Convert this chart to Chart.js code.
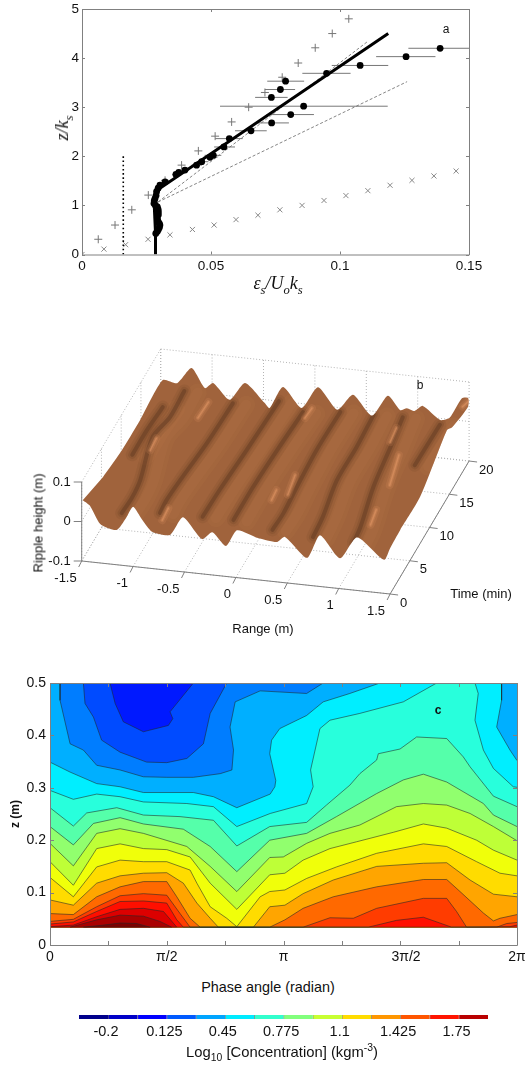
<!DOCTYPE html>
<html>
<head>
<meta charset="utf-8">
<script src="https://cdn.jsdelivr.net/npm/chart.js@4/dist/chart.umd.js"></script>
<style>
  html, body { margin: 0; padding: 0; background: #fff; }
  #page { position: relative; width: 525px; height: 1066px; overflow: hidden; font-family: "Liberation Sans", Arial, sans-serif; color: #111; }
  canvas { position: absolute; left: 0; display: block; }
  .label { position: absolute; white-space: nowrap; line-height: 1; font-size: 13px; transform: translate(-50%, -50%); }
  .up { transform: translate(-50%, -50%) rotate(-90deg); }
  .math { font-family: "Liberation Serif", serif; font-style: italic; font-size: 18px; }
  sub, sup { font-size: 70%; line-height: 0; }
</style>
</head>
<body>
<div id="page">
  <canvas id="profileChart" width="525" height="300" style="top:0"></canvas>
  <canvas id="surfaceChart" width="525" height="310" style="top:330px"></canvas>
  <canvas id="contourChart" width="525" height="305" style="top:670px"></canvas>
  <canvas id="colorbarChart" width="525" height="45" style="top:1000px"></canvas>

  <span class="label math" style="left:278px;top:283px">&#949;<sub>s</sub>/U<sub>o</sub>k<sub>s</sub></span>
  <span class="label math up" style="left:62px;top:128px">z/k<sub>s</sub></span>
  <span class="label" style="left:446px;top:29px;font-size:12px">a</span>

  <span class="label" style="left:420px;top:385px;font-size:12px">b</span>
  <span class="label up" style="left:38px;top:523px">Ripple height (m)</span>
  <span class="label" style="left:263px;top:628px">Range (m)</span>
  <span class="label" style="left:481px;top:593px">Time (min)</span>

  <span class="label" style="left:438px;top:710px;font-size:12px;font-weight:bold">c</span>
  <span class="label up" style="left:15px;top:814px;font-weight:bold;font-size:12px">z (m)</span>
  <span class="label" style="left:268px;top:987px;font-size:14.4px">Phase angle (radian)</span>
  <span class="label" style="left:282px;top:1052px;font-size:14.8px">Log<sub>10</sub> [Concentration] (kgm<sup>-3</sup>)</span>
</div>
<script>
// panel a: dissipation profile
const epsTicks = [0, 0.05, 0.1, 0.15];
const heightTicks = [0, 1, 2, 3, 4, 5];
const dotEps = [.1388, .1256, .1078, .0948, .0789, .0769, .0734, .0859, .0809, .0735, .0655, .0571, .055, .0509, .0496, .0464, .0444, .0399, .0375, .0364, .0322, .0302, .0295, .0289, .0287, .0283, .028, .0279, .0285, .0292, .0295, .0296, .0296, .0292, .0293, .0296, .03, .0302, .03, .0296, .0292, .0286];
const dotHeight = [4.2, 4.03, 3.85, 3.69, 3.53, 3.36, 3.2, 3.02, 2.85, 2.68, 2.52, 2.36, 2.19, 2.02, 1.98, 1.89, 1.82, 1.72, 1.67, 1.63, 1.48, 1.41, 1.35, 1.28, 1.2, 1.14, 1.09, 1.04, 1.0, .97, .92, .87, .81, .75, .7, .66, .63, .6, .55, .51, .47, .43];
const dotLow = [.1265, .114, .0968, .0854, .0718, .0709, .0671, .0535, .0716, .0682, .0593, .0516, .0512, .0475, .047, .0445, .0425, .0385, .036, .035, .031, .0292, .0285, .028, .0278, .0274, .0272, .027, .0276, .0283, .0286, .0287, .0287, .0283, .0284, .0287, .029, .0292, .029, .0287, .0283, .0277];
const dotHigh = [.151, .137, .1187, .1041, .0861, .0826, .0797, .1185, .0899, .0802, .0716, .0623, .0593, .054, .0525, .049, .0465, .0415, .039, .0378, .0335, .0312, .0305, .0298, .0296, .0292, .0288, .0288, .0294, .0301, .0304, .0305, .0305, .0301, .0302, .0305, .031, .0312, .031, .0305, .0301, .0295];
const plusEps = [.0063, .0128, .0193, .0257, .0322, .0386, .0451, .0516, .058, .0646, .0709, .0776, .0838, .0904, .097, .1034];
const plusHeight = [.31, .6, .91, 1.21, 1.51, 1.82, 2.11, 2.41, 2.7, 3.0, 3.3, 3.61, 3.9, 4.21, 4.5, 4.8];
const crossEps = [0, .0085, .0169, .0256, .0341, .0428, .0512, .0597, .0682, .0767, .0853, .0938, .1023, .1108, .1194, .1279, .1364, .145];
const crossHeight = [0, .11, .2, .31, .4, .51, .6, .71, .8, .91, 1.0, 1.1, 1.2, 1.3, 1.41, 1.51, 1.6, 1.7];
const fitEps = [.0285, .0285, .028, .0285, .0302, .1187];
const fitHeight = [0, .43, 1.0, 1.2, 1.35, 4.5];
const upperDashEps = [.0295, .111];
const upperDashHeight = [1.07, 4.35];
const lowerDashEps = [.0295, .126];
const lowerDashHeight = [1.07, 3.52];
const dottedEps = [.016, .016];
const dottedHeight = [0, 2.02];

// panel b: rippled bed, edges read as [range, height] or [time, height]
const rangeTicks = [-1.5, -1, -0.5, 0, 0.5, 1, 1.5];
const timeTicks = [0, 5, 10, 15, 20];
const rippleTicks = [-0.1, 0, 0.1];
const frontEdge = [[-1.49, .054], [-1.42, .042], [-1.32, -.001], [-1.16, -.012], [-1.07, .02], [-1.0, .051], [-.91, .02], [-.816, -.007], [-.64, -.01], [-.515, .038], [-.33, -.012], [-.23, .008], [-.097, -.023], [.011, .02], [.215, .006], [.4, .001], [.478, .016], [.692, -.031], [.818, .03], [1.013, -.023], [1.178, .035], [1.441, -.015], [1.5, .016]];
const rightEdge = [[2.53, .019], [7.6, .018], [14.4, .073], [15.7, .058], [19.7, .042]];
const backEdge = [[-1.48, .022], [-1.34, .018], [-1.2, .06], [-1.07, .013], [-.99, .028], [-.83, -.01], [-.68, .037], [-.49, -.008], [-.44, -.02], [-.31, .037], [-.13, -.011], [.03, .046], [.22, -.006], [.37, .036], [.555, -.012], [.71, .043], [.83, .01], [.895, .017], [.97, .012], [1.05, .027], [1.22, -.004], [1.31, .004], [1.43, .057], [1.49, .059]];
const leftEdge = [[5.4, .022], [9.7, .01], [14.8, .008]];
// ripple flanks in shadow and in light, as [range, time]
const shadowFlanks = [
  [[-1.38, 17.4], [-1.40, 13.9], [-1.40, 10.2]],
  [[-1.27, 20], [-1.26, 16.1], [-1.31, 13.0], [-1.19, 6.75], [-1.17, 4.2], [-1.18, 1.8]],
  [[-.76, 19.0], [-.78, 13.0], [-.82, 7.8], [-.84, 4.3], [-.83, 2.4]],
  [[-.35, 20], [-.38, 12.6], [-.41, 6.5], [-.42, 2.5]],
  [[-.07, 18.8], [-.10, 13.1], [-.12, 7.5], [-.12, 2.5]],
  [[.27, 19.4], [.26, 13.7], [.28, 8.1], [.30, 4.2], [.29, 1.7]],
  [[.59, 19.5], [.61, 14.7], [.61, 9.7], [.68, 4.3], [.70, 1.3]],
  [[.87, 19.6], [.92, 15.2], [.98, 9.3], [1.08, 3.4], [1.10, 1.1]],
  [[1.25, 19.1], [1.24, 13.0]]
];
const litFlanks = [
  [[-1.26, 11.1], [-1.27, 12.9]],
  [[-.99, 18.8], [-1.0, 16.4]],
  [[-.77, 1.4], [-.78, 3.2]],
  [[-.01, 19.5], [-.02, 18.0]],
  [[.2, 9.8], [.24, 6.9]],
  [[.11, 7.4], [.12, 5.9]],
  [[1.13, 6.1], [1.16, 3.9]],
  [[1.04, 14.2], [1.12, 9.8]],
  [[.87, 18.0], [.89, 15.9]],
  [[1.36, 22], [1.39, 23]]
];

// panel c: concentration contours as [phase / pi, z]
const phaseTicks = [0, .25, .5, .75, 1, 1.25, 1.5, 1.75, 2];
const phaseLabels = ['0', '', 'π/2', '', 'π', '', '\u00a0\u00a0\u00a03π/2', '', '2π'];
const zTicks = [0, .1, .2, .3, .4, .5];
const zBottom = .034;
const topBlue1 = [[.043, .5], [.043, .467], [.086, .384], [.143, .372], [.2, .343], [.3, .334], [.4, .321], [.5, .32], [.614, .32], [.729, .327], [.779, .334], [.786, .372], [.771, .416], [.793, .464], [.9, .485], [1.099, .48], [1.17, .5]];
const topBlue2 = [[.143, .5], [.15, .461], [.186, .435], [.221, .391], [.3, .368], [.414, .349], [.5, .348], [.586, .356], [.657, .384], [.686, .442], [.757, .5]];
const topBlue3 = [[.257, .5], [.279, .461], [.314, .426], [.4, .407], [.507, .419], [.526, .432], [.514, .445], [.614, .5]];
const contour1 = [[0, .349], [.086, .33], [.2, .308], [.3, .302], [.4, .291], [.514, .291], [.614, .291], [.7, .283], [.8, .262], [.943, .288], [.963, .302], [.967, .314], [.941, .365], [.949, .391], [.984, .413], [1.099, .438], [1.17, .464], [1.284, .48], [1.413, .5], [1.934, .5], [1.934, .467], [1.913, .416], [1.97, .372], [2, .352]];
const contour2 = [[0, .295], [.1, .278], [.2, .288], [.3, .283], [.4, .273], [.586, .27], [.7, .264], [.8, .226], [.943, .251], [1.099, .27], [1.127, .302], [1.116, .334], [1.156, .413], [1.199, .429], [1.327, .442], [1.513, .464], [1.656, .5], [1.82, .5], [1.834, .48], [1.82, .429], [1.856, .372], [1.899, .337], [1.984, .302], [2, .301]];
const contour3 = [[0, .262], [.1, .227], [.157, .252], [.286, .262], [.4, .248], [.557, .245], [.7, .238], [.8, .189], [.941, .226], [1.099, .234], [1.184, .267], [1.284, .305], [1.327, .327], [1.399, .353], [1.406, .365], [1.499, .374], [1.57, .397], [1.699, .394], [1.77, .359], [1.799, .34], [1.899, .284], [2, .264]];
const contour4 = [[0, .226], [.1, .191], [.186, .232], [.3, .243], [.4, .231], [.571, .221], [.686, .188], [.8, .14], [.941, .2], [1.099, .213], [1.227, .245], [1.399, .289], [1.513, .315], [1.599, .326], [1.699, .311], [1.856, .27], [1.899, .248], [2, .226]];
const contour5 = [[0, .194], [.1, .151], [.2, .213], [.3, .222], [.4, .213], [.586, .188], [.686, .15], [.8, .102], [.941, .167], [.999, .168], [1.099, .194], [1.199, .213], [1.327, .229], [1.484, .264], [1.599, .27], [1.699, .267], [1.799, .251], [1.899, .226], [2, .199]];
const contour6 = [[0, .159], [.1, .114], [.2, .184], [.3, .193], [.4, .184], [.5, .182], [.6, .168], [.686, .118], [.8, .068], [.941, .134], [1.006, .137], [1.084, .162], [1.199, .184], [1.313, .197], [1.47, .215], [1.599, .231], [1.699, .223], [1.827, .2], [1.899, .181], [2, .162]];
const contour7 = [[0, .129], [.1, .092], [.2, .149], [.3, .162], [.4, .159], [.5, .159], [.6, .143], [.629, .118], [.686, .073], [.757, .051], [.8, .035], [.9, .092], [.941, .102], [1.006, .105], [1.099, .127], [1.227, .149], [1.399, .175], [1.599, .193], [1.699, .188], [1.827, .159], [1.927, .137], [2, .132]];
const contour8 = [[0, .086], [.1, .076], [.2, .118], [.3, .132], [.4, .137], [.5, .138], [.571, .118], [.629, .08], [.686, .051], [.721, .034], [.871, .034], [.941, .073], [1.006, .076], [1.084, .098], [1.213, .124], [1.399, .15], [1.599, .156], [1.699, .157], [1.799, .124], [1.899, .097], [2, .092]];
const contour9 = [[0, .06], [.1, .058], [.2, .092], [.3, .111], [.4, .121], [.5, .121], [.543, .092], [.6, .051], [.643, .034], [.941, .034], [1.006, .048], [1.084, .07], [1.213, .092], [1.399, .111], [1.599, .125], [1.699, .125], [1.756, .102], [1.856, .061], [1.899, .046], [1.927, .051], [2, .058]];
const contour10 = [[0, .045], [.1, .049], [.2, .073], [.3, .094], [.4, .098], [.5, .095], [.557, .06], [.6, .034], [1.084, .034], [1.199, .052], [1.299, .051], [1.399, .07], [1.599, .089], [1.699, .089], [1.741, .064], [1.784, .034], [1.913, .034], [1.956, .041], [2, .043]];
const contour11 = [[0, .04], [.1, .044], [.2, .064], [.3, .083], [.4, .084], [.5, .08], [.543, .048], [.571, .034], [1.363, .034], [1.484, .047], [1.599, .053], [1.72, .034], [1.97, .035], [2, .038]];
const contour12 = [[0, .035], [.1, .038], [.2, .054], [.3, .068], [.4, .07], [.486, .064], [.543, .034]];
const contour13 = [[.086, .034], [.2, .048], [.3, .057], [.4, .055], [.471, .045], [.521, .034]];
const contour14 = [[.143, .034], [.229, .038], [.3, .042], [.371, .041], [.429, .034]];
const topContours = [topBlue1, topBlue2, topBlue3];
const topColours = ['rgb(0,125,255)', 'rgb(0,75,255)', 'rgb(0,25,255)'];
const lowerContours = [contour1, contour2, contour3, contour4, contour5, contour6, contour7, contour8, contour9, contour10, contour11, contour12, contour13, contour14];
const lowerColours = ['rgb(0,238,255)', 'rgb(40,255,220)', 'rgb(85,255,170)', 'rgb(145,255,110)', 'rgb(190,255,55)', 'rgb(240,255,10)', 'rgb(255,220,0)', 'rgb(255,165,0)', 'rgb(255,105,0)', 'rgb(255,60,0)', 'rgb(255,15,0)', 'rgb(220,0,0)', 'rgb(170,0,0)', 'rgb(125,0,0)'];

// colour bar
const barEdges = [-.35, -.1875, -.025, .1375, .3, .4625, .625, .7875, .95, 1.1125, 1.275, 1.4375, 1.6, 1.7625, 1.925];
const barColours = ['rgb(0,0,140)', 'rgb(0,0,200)', 'rgb(0,0,255)', 'rgb(0,90,255)', 'rgb(0,165,255)', 'rgb(0,235,255)', 'rgb(50,255,205)', 'rgb(130,255,125)', 'rgb(200,255,50)', 'rgb(255,220,0)', 'rgb(255,150,0)', 'rgb(255,85,0)', 'rgb(255,20,0)', 'rgb(185,0,0)'];
const barTicks = [-0.2, 0.125, 0.45, 0.775, 1.1, 1.425, 1.75];

Chart.defaults.animation = false;
Chart.defaults.responsive = false;
Chart.defaults.devicePixelRatio = 1;
Chart.defaults.font.family = '"Liberation Sans", Arial, sans-serif';
Chart.defaults.font.size = 13;
Chart.defaults.color = '#111';
Chart.defaults.plugins.legend.display = false;
Chart.defaults.plugins.tooltip.enabled = false;

const frameGrey = '#808080';

function zip(xs, ys) {
  return xs.map((x, i) => ({ x: x, y: ys[i] }));
}

// later datasets paint over earlier ones
function layered(datasets) {
  return datasets.map((d, i) => Object.assign({ order: datasets.length - i }, d));
}

// grey box with ticks pointing inwards, on all four sides
function innerFrame(len) {
  return {
    id: 'innerFrame',
    afterDraw(chart) {
      const { ctx, chartArea: a, scales } = chart;
      ctx.save();
      ctx.strokeStyle = frameGrey;
      ctx.lineWidth = 1;
      ctx.beginPath();
      ctx.rect(a.left + .5, a.top + .5, a.right - a.left, a.bottom - a.top);
      scales.x.ticks.forEach(t => {
        const px = Math.round(scales.x.getPixelForValue(t.value)) + .5;
        ctx.moveTo(px, a.top); ctx.lineTo(px, a.top + len);
        ctx.moveTo(px, a.bottom); ctx.lineTo(px, a.bottom - len);
      });
      scales.y.ticks.forEach(t => {
        const py = Math.round(scales.y.getPixelForValue(t.value)) + .5;
        ctx.moveTo(a.left, py); ctx.lineTo(a.left + len, py);
        ctx.moveTo(a.right, py); ctx.lineTo(a.right - len, py);
      });
      ctx.stroke();
      ctx.restore();
    }
  };
}

function fixedAxis(min, max, ticks, size, padding, fontSize, callback) {
  return {
    type: 'linear',
    min: min,
    max: max,
    grid: { display: false, drawTicks: false },
    border: { display: false },
    afterBuildTicks: scale => { scale.ticks = ticks.map(v => ({ value: v })); },
    afterFit: scale => {
      // labels may hang past the plot, the plot box must not shrink for them
      scale.paddingLeft = scale.paddingRight = scale.paddingTop = scale.paddingBottom = 0;
      if (scale.isHorizontal()) scale.height = size; else scale.width = size;
    },
    ticks: { autoSkip: false, maxRotation: 0, padding: padding, font: { size: fontSize }, callback: callback || (v => String(v)) }
  };
}

// panel a
const errorBars = [];
dotEps.forEach((e, i) => {
  errorBars.push({ x: dotLow[i], y: dotHeight[i] }, { x: dotHigh[i], y: dotHeight[i] }, { x: NaN, y: NaN });
});

new Chart(document.getElementById('profileChart'), {
  type: 'scatter',
  data: {
    datasets: layered([
      { data: errorBars, showLine: true, borderColor: '#777', borderWidth: 1, pointRadius: 0 },
      { data: zip(plusEps, plusHeight), pointStyle: 'cross', pointRadius: 4, borderColor: '#777', borderWidth: 1 },
      { data: zip(crossEps, crossHeight), pointStyle: 'crossRot', pointRadius: 3.6, borderColor: '#888', borderWidth: 1 },
      { data: zip(upperDashEps, upperDashHeight), showLine: true, borderColor: '#666', borderWidth: .8, borderDash: [3, 2], pointRadius: 0 },
      { data: zip(lowerDashEps, lowerDashHeight), showLine: true, borderColor: '#666', borderWidth: .8, borderDash: [3, 2], pointRadius: 0 },
      { data: zip(dottedEps, dottedHeight), showLine: true, borderColor: '#000', borderWidth: 1.6, borderDash: [1.6, 2.6], pointRadius: 0 },
      { data: zip(fitEps, fitHeight), showLine: true, borderColor: '#000', borderWidth: 3, pointRadius: 0 },
      { data: zip(dotEps, dotHeight), pointRadius: 3.4, backgroundColor: '#000', borderColor: '#000', borderWidth: 0 }
    ])
  },
  options: {
    layout: { padding: { top: 9, right: 56 } },
    scales: {
      x: fixedAxis(0, .15, epsTicks, 45.5, 4, 13.5),
      y: fixedAxis(0, 5, heightTicks, 82, 3, 13.5)
    }
  },
  plugins: [innerFrame(3)]
});

// panel b: fixed MATLAB style view of the box
function project(range, time, height) {
  return {
    x: 81.7 + (range + 1.5) * 102.8 + time * 3.95,
    y: 561 + (range + 1.5) * 11 - time * 6.65 - (height + .1) * 395
  };
}

function boxLine(from, to, style) {
  return Object.assign({ data: [project(...from), project(...to)], showLine: true, pointRadius: 0 }, style);
}

// soft edged stroke, built from a few wide translucent passes
function softStroke(sets, data, colour, widths, alphas, tension) {
  widths.forEach((w, i) => {
    sets.push({
      data: data,
      showLine: true,
      tension: tension,
      borderColor: 'rgba(' + colour + ',' + alphas[i] + ')',
      borderWidth: w,
      borderCapStyle: 'round',
      pointRadius: 0,
      onBed: true
    });
  });
}

const dotted = { borderColor: '#b4b4b4', borderWidth: 1, borderDash: [1, 2] };
const solid = { borderColor: frameGrey, borderWidth: 1 };
const tMax = timeTicks[timeTicks.length - 1];
const rMin = rangeTicks[0];
const rMax = rangeTicks[rangeTicks.length - 1];
const zMin = rippleTicks[0];
const zMax = rippleTicks[rippleTicks.length - 1];

const surfaceOutline = [
  ...frontEdge.map(p => project(p[0], 0, p[1])),
  ...rightEdge.map(p => project(rMax, p[0], p[1])),
  ...backEdge.slice().reverse().map(p => project(p[0], tMax, p[1])),
  ...leftEdge.slice().reverse().map(p => project(rMin, p[0], p[1]))
];

const surfaceSets = [];
rangeTicks.forEach(r => {
  surfaceSets.push(boxLine([r, 0, zMin], [r, tMax, zMin], dotted));
  surfaceSets.push(boxLine([r, tMax, zMin], [r, tMax, zMax], dotted));
});
timeTicks.forEach(t => {
  surfaceSets.push(boxLine([rMin, t, zMin], [rMax, t, zMin], dotted));
  surfaceSets.push(boxLine([rMin, t, zMin], [rMin, t, zMax], dotted));
});
rippleTicks.forEach(z => {
  surfaceSets.push(boxLine([rMin, tMax, z], [rMax, tMax, z], dotted));
  surfaceSets.push(boxLine([rMin, 0, z], [rMin, tMax, z], dotted));
});
surfaceSets.push({ data: surfaceOutline, showLine: true, fill: 'shape', tension: .22, backgroundColor: '#a0633c', borderWidth: 0, pointRadius: 0, bedOutline: true });
// broad lit slope beside each shadow, then the shadow, then small glints
shadowFlanks.forEach(f => {
  const data = f.map(p => project(p[0] + .13, p[1], 0));
  softStroke(surfaceSets, data, '186,118,74', [18, 10], [.14, .16], .3);
});
shadowFlanks.forEach(f => {
  const data = f.map(p => project(p[0], p[1], 0));
  softStroke(surfaceSets, data, '98,58,34', [13, 8, 4], [.12, .2, .5], .3);
});
litFlanks.forEach(f => {
  const data = f.map(p => project(p[0], p[1], 0));
  softStroke(surfaceSets, data, '228,152,102', [8, 4, 1.6], [.16, .28, .5], 0);
});
surfaceSets.push(boxLine([rMin, 0, zMin], [rMax, 0, zMin], solid));
surfaceSets.push(boxLine([rMax, 0, zMin], [rMax, tMax, zMin], solid));
surfaceSets.push(boxLine([rMin, 0, zMin], [rMin, 0, zMax], solid));

// keeps the shading strokes inside the bed outline
const clipToBed = {
  id: 'clipToBed',
  beforeDatasetDraw(chart, args) {
    if (!chart.data.datasets[args.index].onBed) return;
    const outlineIndex = chart.data.datasets.findIndex(d => d.bedOutline);
    const { ctx } = chart;
    ctx.save();
    ctx.beginPath();
    chart.getDatasetMeta(outlineIndex).dataset.path(ctx);
    ctx.closePath();
    ctx.clip();
  },
  afterDatasetDraw(chart, args) {
    if (chart.data.datasets[args.index].onBed) chart.ctx.restore();
  }
};

// tick marks and numbers of the three box axes
const boxAxes = {
  id: 'boxAxes',
  afterDraw(chart) {
    const { ctx, scales } = chart;
    const at = (r, t, z) => {
      const p = project(r, t, z);
      return { x: scales.x.getPixelForValue(p.x), y: scales.y.getPixelForValue(p.y) };
    };
    const mark = (p, dx, dy, text, ox, oy, align) => {
      ctx.beginPath();
      ctx.moveTo(p.x, p.y);
      ctx.lineTo(p.x + dx, p.y + dy);
      ctx.stroke();
      ctx.textAlign = align;
      ctx.fillText(text, p.x + ox, p.y + oy);
    };
    ctx.save();
    ctx.strokeStyle = frameGrey;
    ctx.fillStyle = '#111';
    ctx.lineWidth = 1;
    ctx.font = '13px "Liberation Sans", Arial, sans-serif';
    ctx.textBaseline = 'middle';
    rangeTicks.forEach(r => mark(at(r, 0, zMin), -3, 6, String(r), -5, 17, 'right'));
    timeTicks.forEach(t => mark(at(rMax, t, zMin), 8, 1, String(t), 10, 9, 'left'));
    rippleTicks.forEach(z => mark(at(rMin, 0, z), -8, 0, String(z), -11, 0, 'right'));
    ctx.restore();
  }
};

new Chart(document.getElementById('surfaceChart'), {
  type: 'scatter',
  data: { datasets: layered(surfaceSets) },
  options: {
    scales: {
      x: { type: 'linear', display: false, min: 0, max: 525 },
      y: { type: 'linear', display: false, min: 330, max: 640, reverse: true }
    }
  },
  plugins: [clipToBed, boxAxes]
});

// panel c: each level is a borderless fill plus its contour line
function toPoints(contour) {
  return contour.map(p => ({ x: p[0], y: p[1] }));
}

function contourLine(contour) {
  return { data: toPoints(contour), showLine: true, borderColor: 'rgba(30,40,40,.8)', borderWidth: .7, pointRadius: 0 };
}

function contourFill(contour, colour) {
  return { data: toPoints(contour), showLine: true, fill: 'shape', backgroundColor: colour, borderWidth: 0, pointRadius: 0 };
}

const contourSets = [contourFill([[0, zBottom], [0, .5], [2, .5], [2, zBottom]], 'rgb(0,175,255)')];
topContours.forEach((c, i) => {
  contourSets.push(contourFill(c, topColours[i]), contourLine(c));
});
lowerContours.forEach((c, i) => {
  contourSets.push(contourFill(c.concat([[2, zBottom], [0, zBottom]]), lowerColours[i]), contourLine(c));
});
contourSets.push(contourLine([[0, zBottom], [2, zBottom]]));

new Chart(document.getElementById('contourChart'), {
  type: 'scatter',
  data: { datasets: layered(contourSets) },
  options: {
    layout: { padding: { top: 13, right: 8 } },
    scales: {
      x: fixedAxis(0, 2, phaseTicks, 30, 4, 14, (v, i) => phaseLabels[i]),
      y: fixedAxis(0, .5, zTicks, 50, 4, 14)
    }
  },
  plugins: [innerFrame(4)]
});

// colour bar
new Chart(document.getElementById('colorbarChart'), {
  type: 'bar',
  data: {
    labels: [''],
    datasets: barColours.map((c, i) => ({
      data: [[barEdges[i], barEdges[i + 1]]],
      backgroundColor: c,
      borderColor: 'rgba(0,0,0,.45)',
      borderWidth: { left: i ? 1 : 0 },
      borderSkipped: false,
      grouped: false,
      barPercentage: 1,
      categoryPercentage: 1
    }))
  },
  options: {
    indexAxis: 'y',
    layout: { padding: { top: 15, left: 79, right: 37 } },
    scales: {
      x: fixedAxis(barEdges[0], barEdges[barEdges.length - 1], barTicks, 26, 4.5, 14.5),
      y: { display: false }
    }
  }
});
</script>
</body>
</html>
